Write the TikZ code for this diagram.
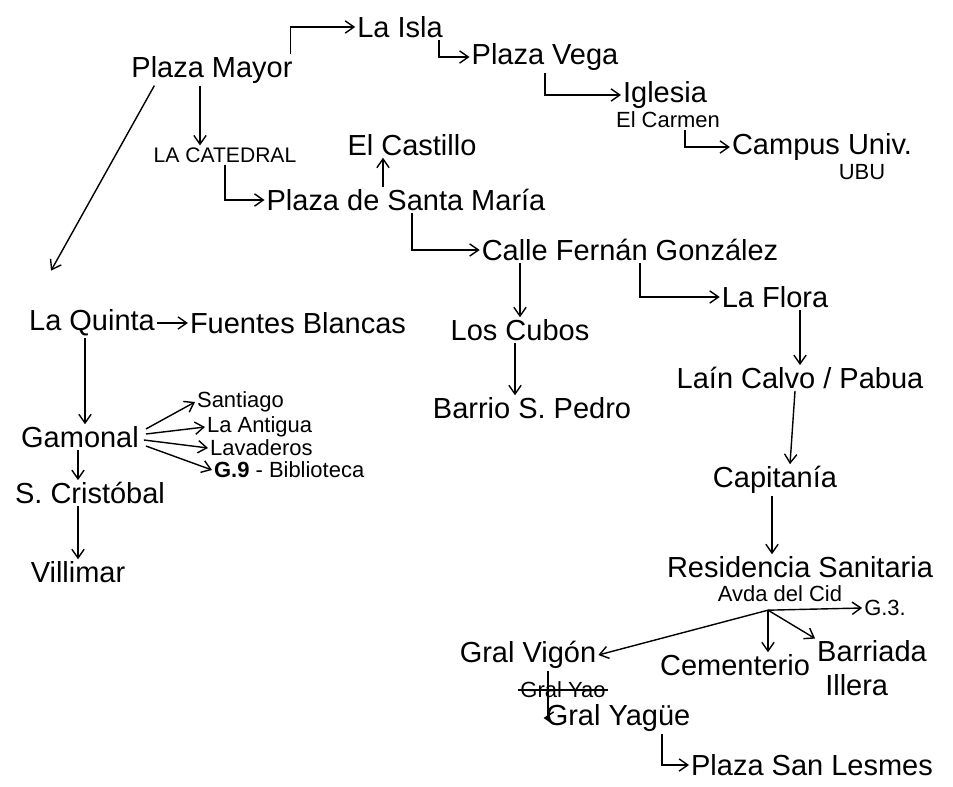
\documentclass[tikz,border=0pt]{standalone}
\usepackage{fontspec}
\setmainfont{Liberation Sans}
\usetikzlibrary{arrows.meta,positioning,calc}

\begin{document}
\begin{tikzpicture}[
  x=0.02cm, y=-0.02cm,
  place/.style={font=\fontsize{16.5}{19}\selectfont, inner sep=1pt},
  minor/.style={font=\fontsize{12.5}{15}\selectfont, inner sep=1pt},
  caps/.style={font=\fontsize{12}{14}\selectfont, inner sep=1pt},
  link/.style={-{Straight Barb[length=5pt,width=7pt]}, line width=0.8pt},
]
\useasboundingbox (0,0) rectangle (953,787);

% Plaza Mayor and the north-east route
\node[place] (mayor) at (212,70) {Plaza Mayor};
\node[place] (isla) at (400,27) {La Isla};
\node[place] (vega) at (545,57) {Plaza Vega};
\node[place] (iglesia) at (665,95) {Iglesia};
\node[minor] (carmen) at (668,120) {El Carmen};
\node[place] (campus) at (822,147) {Campus Univ.};
\node[minor] (ubu) at (862,172) {UBU};

\draw[link] ($(mayor.north east)+(-4,0)$) |- (isla.west);
\draw[link] ($(isla.south east)+(-6,0)$) |- (vega.west);
\draw[link] (vega.south) |- (iglesia.west);
\draw[link] ($(carmen.south)+(17,0)$) |- (campus.west);

% Catedral branch
\node[caps] (catedral) at (225,155) {LA CATEDRAL};
\node[place] (castillo) at (412,145) {El Castillo};
\node[place] (smaria) at (406,200) {Plaza de Santa María};
\node[place] (fernan) at (630,250) {Calle Fernán González};
\node[place] (cubos) at (520,330) {Los Cubos};
\node[place] (pedro) at (532,408) {Barrio S. Pedro};

\draw[link] ($(mayor.south)+(-12,0)$) -- ($(catedral.north)+(-25,0)$);
\draw[link] (catedral.south) |- (smaria.west);
\draw[link] ($(smaria.north)+(-23,0)$) -- ($(castillo.south)+(-29,0)$);
\draw[link] ($(smaria.south)+(6,0)$) |- (fernan.west);
\draw[link] (fernan.south -| cubos.north) -- (cubos.north);
\draw[link] ($(cubos.south)+(-5,0)$) -- ($(pedro.north)+(-17,0)$);

% La Flora line
\node[place] (flora) at (775,297) {La Flora};
\node[place] (lain) at (800,378) {Laín Calvo / Pabua};
\node[place] (capitania) at (775,480) {Capitanía};
\node[place] (residencia) at (800,567) {Residencia Sanitaria};
\node[minor] (cid) at (780,594) {Avda del Cid};
\coordinate (hub) at ($(cid.south)+(-12,6)$);

\draw[link] ($(fernan.south)+(10,0)$) |- (flora.west);
\draw[link] (flora.south -| lain.north) -- (lain.north);
\draw[link] ($(lain.south)+(-5,0)$) -- ($(capitania.north)+(15,0)$);
\draw[link] ($(capitania.south)+(-3,0)$) -- ($(residencia.north)+(-28,0)$);

% Avda del Cid
\node[minor] (g3) at (885,608) {G.3.};
\node[place, align=left] (illera) at (872,668) {Barriada\\\ Illera};
\node[place] (cementerio) at (735,665) {Cementerio};
\node[place] (vigon) at (528,655) {Gral Vigón};
\node[minor] (tachado) at (563,690) {Gral Yao};
\node[place] (yague) at (618,718) {Gral Yagüe};
\node[place] (lesmes) at (812,765) {Plaza San Lesmes};

\draw[line width=1.6pt] (tachado.west) -- (tachado.east);
\draw[link] (hub) -- (g3.west);
\draw[link] (hub) -- (illera.north west);
\draw[link] (hub) -- (hub |- cementerio.north);
\draw[link] (hub) -- (vigon.east);
\draw[link] ($(vigon.south)+(20,0)$) |- (yague.west);
\draw[link] ($(yague.south)+(44,0)$) |- (lesmes.west);

% West: La Quinta and Gamonal
\node[place] (quinta) at (92,323) {La Quinta};
\node[place] (fuentes) at (298,323) {Fuentes Blancas};
\node[place] (gamonal) at (80,437) {Gamonal};
\node[minor, anchor=west] (santiago) at (195,402) {Santiago};
\node[minor, anchor=west] (antigua) at (205,427) {La Antigua};
\node[minor, anchor=west] (lavaderos) at (208,448) {Lavaderos};
\node[minor, anchor=west] (g9) at (212,470) {\textbf{G.9} - Biblioteca};
\node[place] (cristobal) at (90,493) {S. Cristóbal};
\node[place] (villimar) at (78,572) {Villimar};

\draw[link] ($(mayor.south west)+(25,0)$) -- ($(quinta.north west)+(24,-37)$);
\draw[link] (quinta.east) -- (fuentes.west);
\draw[link] ($(quinta.south)+(-7,0)$) -- ($(gamonal.north)+(5,0)$);
\draw[link] ($(gamonal.east)+(5,-8)$) -- (santiago.west);
\draw[link] ($(gamonal.east)+(5,-3)$) -- (antigua.west);
\draw[link] ($(gamonal.east)+(3,3)$) -- (lavaderos.west);
\draw[link] ($(gamonal.east)+(5,9)$) -- (g9.west);
\draw[link] ($(gamonal.south)+(-2,0)$) -- ($(cristobal.north)+(-12,0)$);
\draw[link] ($(cristobal.south)+(-12,0)$) -- (villimar.north);

\end{tikzpicture}
\end{document}
